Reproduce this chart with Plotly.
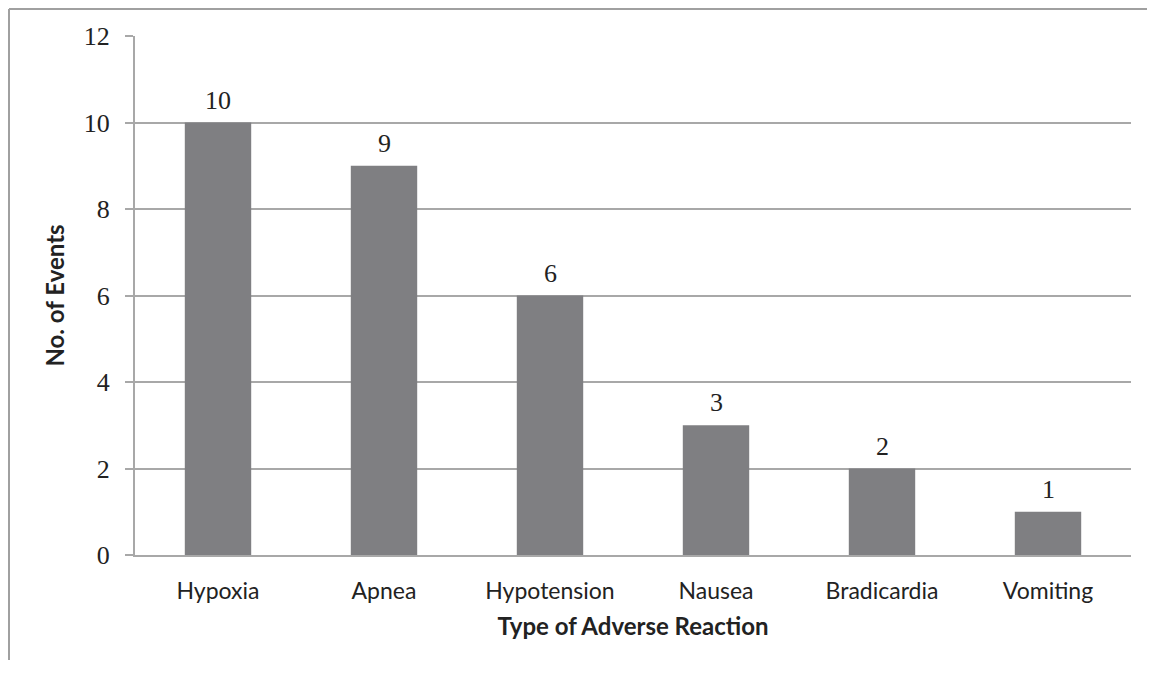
import plotly.graph_objects as go

categories = ["Hypoxia", "Apnea", "Hypotension", "Nausea", "Bradicardia", "Vomiting"]
events = [10, 9, 6, 3, 2, 1]
y_ticks = [0, 2, 4, 6, 8, 10, 12]

BAR = "#7f7f82"
GRID = "#a8a8a8"
SERIF = "Liberation Serif"
SANS = "Lato"

fig = go.Figure()
fig.add_trace(go.Bar(x=categories, y=events, marker=dict(color=BAR, line=dict(width=0)),
                     hoverinfo="skip", showlegend=False))

for c, v in zip(categories, events):
    fig.add_annotation(x=c, y=v, text=str(v), showarrow=False, yanchor="bottom",
                       yshift=6, font=dict(family=SERIF, size=26, color="#222222"))

# page body has an 8px margin, so the figure is sized/offset to compensate
fig.update_layout(
    width=1147, height=666,
    margin=dict(l=127, r=24, t=28, b=119),
    paper_bgcolor="white", plot_bgcolor="white",
    bargap=0.6,
    xaxis=dict(
        showgrid=False, showline=True, linecolor=GRID, linewidth=2,
        ticks="", ticklabelstandoff=14,
        tickfont=dict(family=SANS, size=23, color="#222222"),
        title=dict(text="<b>Type of Adverse Reaction</b>", standoff=16,
                   font=dict(family=SANS, size=24, color="#222222")),
    ),
    yaxis=dict(
        range=[0, 12], tickvals=y_ticks, showgrid=True, gridcolor=GRID, gridwidth=2,
        showline=True, linecolor=GRID, linewidth=2, zeroline=False,
        ticks="outside", ticklen=8, tickcolor=GRID, tickwidth=2,
        ticklabelstandoff=10,
        tickfont=dict(family=SERIF, size=26, color="#222222"),
        title=dict(text="<b>No. of Events</b>", standoff=12,
                   font=dict(family=SANS, size=24, color="#222222")),
    ),
)

# outer chart frame (top and left edges)
fig.add_shape(type="line", xref="paper", yref="paper", x0=-0.1265, x1=1.1, y0=1.052, y1=1.052,
              line=dict(color="#a0a0a0", width=2))
fig.add_shape(type="line", xref="paper", yref="paper", x0=-0.1265, x1=-0.1265, y0=-0.2023, y1=1.052,
              line=dict(color="#a0a0a0", width=2))

fig.write_html("out.html")
